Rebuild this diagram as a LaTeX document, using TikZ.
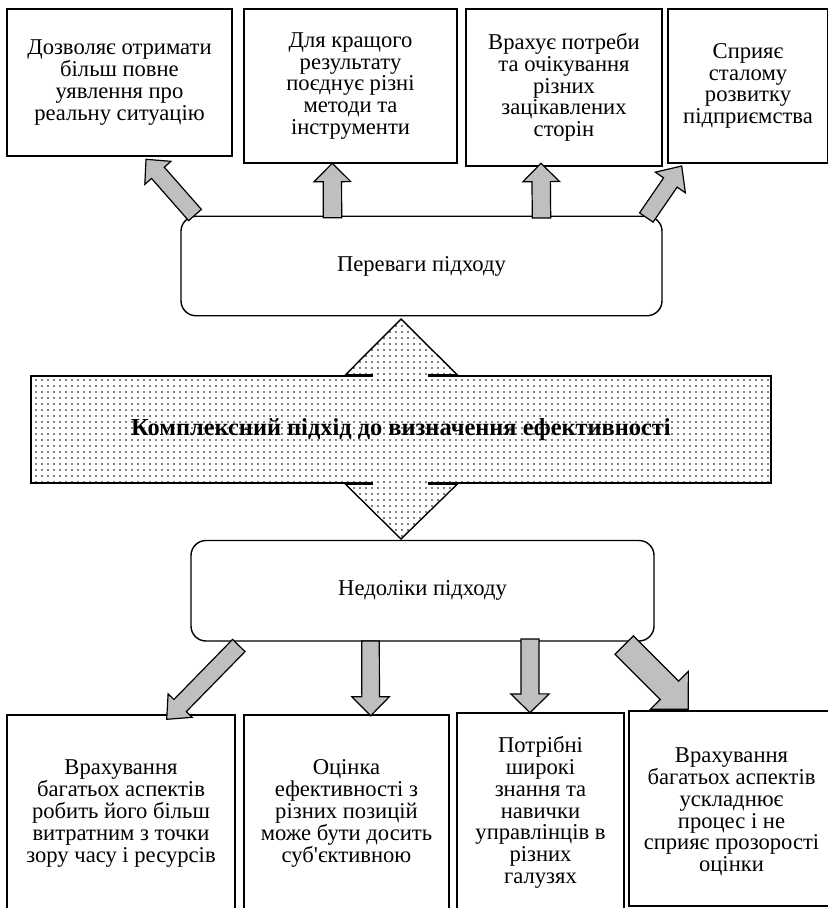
\documentclass[tikz,border=0pt]{standalone}
\usepackage{fontspec}
\setmainfont{Liberation Serif}[Ligatures=TeXOff]
\usetikzlibrary{calc,patterns}

% rjidki krapky
\pgfdeclarepatternformonly{krapky}{\pgfqpoint{-1pt}{-1pt}}{\pgfqpoint{1pt}{1pt}}{\pgfqpoint{3pt}{3pt}}%
  {\pgfpathcircle{\pgfqpoint{0pt}{0pt}}{0.42pt}\pgfusepath{fill}}

% blokova strilka: pochatok, vistrja, pivshyryna, pivshyryna vistrja, dovzhyna vistrja
\newcommand\strilka[5]{%
  \draw[blokstrilka] let \p1=($(#2)-(#1)$), \n1={atan2(\y1,\x1)},
      \n2={veclen(\x1,\y1)-#5} in
    ($(#1)+(\n1+90:#3)$) -- ($(#1)+(\n1:\n2)+(\n1+90:#3)$)
    -- ($(#1)+(\n1:\n2)+(\n1+90:#4)$) -- (#2)
    -- ($(#1)+(\n1:\n2)+(\n1-90:#4)$) -- ($(#1)+(\n1:\n2)+(\n1-90:#3)$)
    -- ($(#1)+(\n1-90:#3)$) -- cycle;}

\begin{document}
\begin{tikzpicture}[x=0.5pt, y=-0.5pt,
  tekst/.style={align=center, inner sep=0pt, font=\fontsize{11.3}{10.9}\selectfont},
  blok/.style={tekst, draw, line width=0.7pt},
  kruglyj/.style={blok, rounded corners=7.5pt},
  blokstrilka/.style={draw, line width=0.6pt, fill=black!25},
  zapovn/.style={fill=white, postaction={pattern=krapky}}]
  \useasboundingbox (0,0) rectangle (827,908);

  % perevagy
  \node[blok, minimum width=112.5pt, minimum height=73.5pt] (p1) at (119.5,82.5)
    {Дозволяє отримати\\більш повне\\уявлення про\\реальну ситуацію};
  \node[blok, minimum width=106.5pt, minimum height=77pt] (p2) at (350.5,86)
    {Для кращого\\результату\\поєднує різні\\методи та\\інструменти};
  \node[blok, minimum width=98pt, minimum height=78.5pt] (p3) at (564,87.5)
    {Врахує потреби\\та очікування\\різних\\зацікавлених\\сторін};
  \node[blok, minimum width=80pt, minimum height=77pt] (p4) at (748,86)
    {Сприяє\\сталому\\розвитку\\підприємства};
  \node[kruglyj, minimum width=240.5pt, minimum height=49.75pt] (per) at (421.5,266)
    {Переваги підходу};

  % kompleksnyj pidkhid
  \node[blok, pattern=krapky, minimum width=370pt, minimum height=53.5pt] (kompl) at (401,429.5) {};
  \coordinate (vg) at (401,319);
  \coordinate (vn) at (401,539);
  \path[zapovn] ($(kompl.north)+(-56,0)$) -- (vg) -- ($(kompl.north)+(56.7,0)$) -- cycle;
  \path[zapovn] ($(kompl.north)+(-28,-4)$) rectangle ($(kompl.north)+(27,5)$);
  \path[zapovn] ($(kompl.south)+(-56,0)$) -- (vn) -- ($(kompl.south)+(56.7,0)$) -- cycle;
  \path[zapovn] ($(kompl.south)+(-28,-5)$) rectangle ($(kompl.south)+(27,4)$);
  \draw[line width=0.7pt] ($(kompl.north)+(-56,0)$) -- (vg) -- ($(kompl.north)+(56.7,0)$);
  \draw[line width=0.7pt] ($(kompl.south)+(-56,0)$) -- (vn) -- ($(kompl.south)+(56.7,0)$);
  \draw[line width=1.3pt] ($(kompl.north)+(-56,0)$) -- ++(28,0) ($(kompl.north)+(27,0)$) -- ++(29.7,0);
  \draw[line width=1.3pt] ($(kompl.south)+(-56,0)$) -- ++(28,0) ($(kompl.south)+(27,0)$) -- ++(29.7,0);
  \node[tekst, font=\fontsize{12.2}{12}\selectfont\bfseries] at (kompl) {Комплексний підхід до визначення ефективності};

  % nedoliky
  \node[kruglyj, minimum width=231.5pt, minimum height=50.25pt] (ned) at (422.5,590.75)
    {Недоліки підходу};
  \node[blok, minimum width=114pt, minimum height=98.5pt] (n1) at (121,813.5)
    {Врахування\\багатьох аспектів\\робить його більш\\витратним з точки\\зору часу і ресурсів};
  \node[blok, minimum width=102.5pt, minimum height=98.5pt] (n2) at (346.5,813.5)
    {Оцінка\\ефективності з\\різних позицій\\може бути досить\\суб\textquotesingle єктивною};
  \node[blok, minimum width=83.5pt, minimum height=99.5pt] (n3) at (540.5,812.5)
    {Потрібні\\широкі\\знання та\\навички\\управлінців в\\різних\\галузях};
  \node[blok, minimum width=102.5pt, minimum height=97.5pt] (n4) at (731.5,808.5) {};
  \node[tekst] at (731.5,812)
    {Врахування\\багатьох аспектів\\ускладнює\\процес і не\\сприяє прозорості\\оцінки};

  % strilky
  \coordinate (a1) at (195,215);     \coordinate (b1) at (146,159.3);
  \coordinate (a2) at (332.5,217.7); \coordinate (b2) at (332.3,163.3);
  \coordinate (a3) at (541.5,218);   \coordinate (b3) at (541,163.3);
  \coordinate (a4) at (646.3,217.5); \coordinate (b4) at (681.7,166);
  \coordinate (c1) at (238.8,645.5); \coordinate (d1) at (166.7,719.3);
  \coordinate (c2) at (370.5,641);   \coordinate (d2) at (370.7,715.7);
  \coordinate (c3) at (529.9,639);   \coordinate (d3) at (530,712.7);
  \coordinate (c4) at (624.2,645);   \coordinate (d4) at (688.3,709.3);
  \strilka{a1}{b1}{4.25pt}{8.7pt}{9pt}
  \strilka{a2}{b2}{4.6pt}{9.2pt}{9.2pt}
  \strilka{a3}{b3}{4.6pt}{9.2pt}{9.2pt}
  \strilka{a4}{b4}{4.1pt}{9.1pt}{10pt}
  \strilka{c1}{d1}{4.35pt}{8.4pt}{9.6pt}
  \strilka{c2}{d2}{4.4pt}{9.4pt}{9.5pt}
  \strilka{c3}{d3}{4.5pt}{9.6pt}{9.4pt}
  \strilka{c4}{d4}{6.5pt}{13.4pt}{13.4pt}
\end{tikzpicture}
\end{document}
